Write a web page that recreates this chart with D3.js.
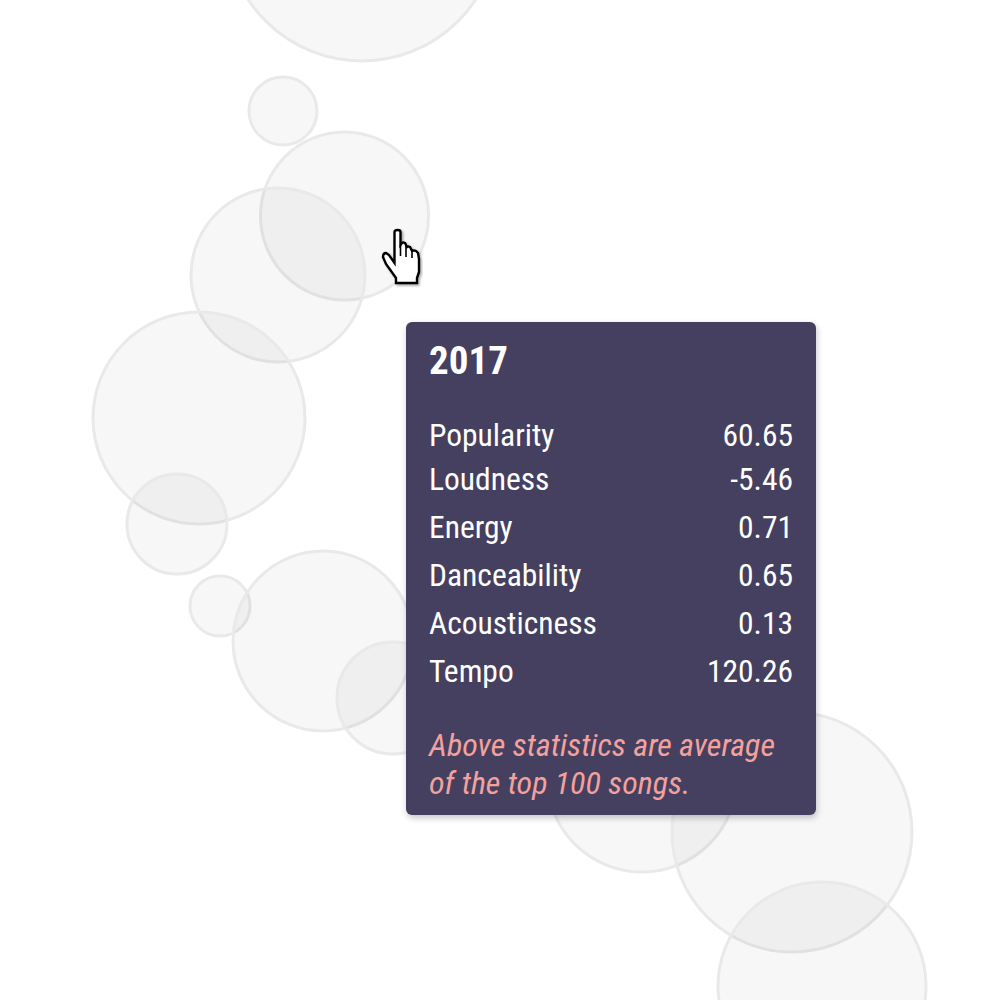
<!DOCTYPE html>
<html>
<head>
<meta charset="utf-8">
<script src="https://cdn.jsdelivr.net/npm/d3@7"></script>
<style>
  html, body { margin: 0; padding: 0; background: #fff; }
  svg { display: block; }
  .tip text { font-family: "Roboto Condensed", Roboto, sans-serif; }
</style>
</head>
<body>
<div class="chart"></div>
<script>
const width = 1000;
const height = 1000;

// bubbles (one per year), position and size in layout units
const years = [2007, 2008, 2009, 2010, 2011, 2012, 2013, 2014, 2015, 2016, 2017, 2018];
const bubbleX = [36.2, 28.3, 34.45, 27.8, 19.9, 17.7, 22.0, 32.3, 39.3, 64.2, 79.2, 82.2];
const bubbleY = [-7.5, 11.1, 21.6, 27.5, 41.8, 52.4, 60.6, 64.1, 69.8, 77.7, 83.2, 98.6];
const bubbleSize = [136, 34, 84, 87, 106, 50, 30, 90, 56, 95, 120, 104];

// tooltip content for the hovered year
const tipYear = "2017";
const statNames = ["Popularity", "Loudness", "Energy", "Danceability", "Acousticness", "Tempo"];
const statValues = ["60.65", "-5.46", "0.71", "0.65", "0.13", "120.26"];
const noteLines = ["Above statistics are average", "of the top 100 songs."];

const x = d3.scaleLinear().domain([0, 100]).range([0, width]);
const y = d3.scaleLinear().domain([0, 100]).range([0, height]);
const r = d3.scaleLinear().domain([0, 100]).range([0, 100]);

const bubbles = years.map((yr, i) => ({ year: yr, x: bubbleX[i], y: bubbleY[i], size: bubbleSize[i] }));

const svg = d3.select(".chart").append("svg")
  .attr("width", width)
  .attr("height", height);

const defs = svg.append("defs");

const shadow = defs.append("filter")
  .attr("id", "tipShadow")
  .attr("x", "-10%").attr("y", "-10%")
  .attr("width", "120%").attr("height", "120%");
shadow.append("feDropShadow")
  .attr("dx", 1).attr("dy", 3)
  .attr("stdDeviation", 3)
  .attr("flood-color", "#000")
  .attr("flood-opacity", 0.22);

const cursorShadow = defs.append("filter")
  .attr("id", "cursorShadow");
cursorShadow.append("feDropShadow")
  .attr("dx", 1.5).attr("dy", 1.5)
  .attr("stdDeviation", 1)
  .attr("flood-color", "#000")
  .attr("flood-opacity", 0.35);

svg.append("g")
  .attr("class", "bubbles")
  .selectAll("circle")
  .data(bubbles)
  .join("circle")
  .attr("cx", d => x(d.x))
  .attr("cy", d => y(d.y))
  .attr("r", d => r(d.size))
  .attr("fill", "rgba(0,0,0,0.03)")
  .attr("stroke", "#e9e9e9")
  .attr("stroke-width", 3);

// hand cursor over the 2017 bubble
const cursor = svg.append("g")
  .attr("transform", "translate(383,230)");

cursor.append("path")
  .attr("filter", "url(#cursorShadow)")
  .attr("d", "M11.5,2 Q11.5,0 14.5,0 Q17.5,0 17.5,2 L17.5,15 L19,13 Q20,12 22,13 L23,15 L24,17 Q25,16 27,17 L28,19 L29,21 Q31,20 33,21 L35,23 " +
    "L36,29 L36,42 L34,48 L34,53 L13,53 L13,48 L3,34 L0,27 Q0,23 3,23 L6,25 L11.5,33 Z")
  .attr("fill", "#fff")
  .attr("stroke", "#000")
  .attr("stroke-width", 2.4)
  .attr("stroke-linejoin", "miter");

cursor.append("path")
  .attr("d", "M17.5,15 L17.5,26 M23,15 L23,27 M29,21 L29,28")
  .attr("fill", "none")
  .attr("stroke", "#000")
  .attr("stroke-width", 1.6);

// tooltip
const tipX = 406, tipY = 322, tipW = 410, tipH = 493;
const tip = svg.append("g")
  .attr("class", "tip")
  .attr("transform", `translate(${tipX},${tipY})`);

tip.append("rect")
  .attr("width", tipW)
  .attr("height", tipH)
  .attr("rx", 6)
  .attr("fill", "#443f5e")
  .attr("filter", "url(#tipShadow)");

tip.append("text")
  .attr("x", 23)
  .attr("y", 52)
  .attr("fill", "#fff")
  .attr("font-size", 39)
  .attr("font-weight", 700)
  .text(tipYear);

const rows = tip.selectAll("g.row")
  .data(statNames)
  .join("g")
  .attr("class", "row")
  .attr("transform", (d, i) => `translate(0,${i === 0 ? 124 : 120 + i * 48})`);

rows.append("text")
  .attr("x", 23)
  .attr("fill", "#fff")
  .attr("font-size", 31.5)
  .text(d => d);

rows.append("text")
  .attr("x", 387)
  .attr("text-anchor", "end")
  .attr("fill", "#fff")
  .attr("font-size", 31.5)
  .text((d, i) => statValues[i]);

tip.selectAll("text.note")
  .data(noteLines)
  .join("text")
  .attr("class", "note")
  .attr("x", 23)
  .attr("y", (d, i) => 434 + i * 38)
  .attr("fill", "#f4a19d")
  .attr("font-size", 32)
  .attr("font-style", "italic")
  .text(d => d);
</script>
</body>
</html>
